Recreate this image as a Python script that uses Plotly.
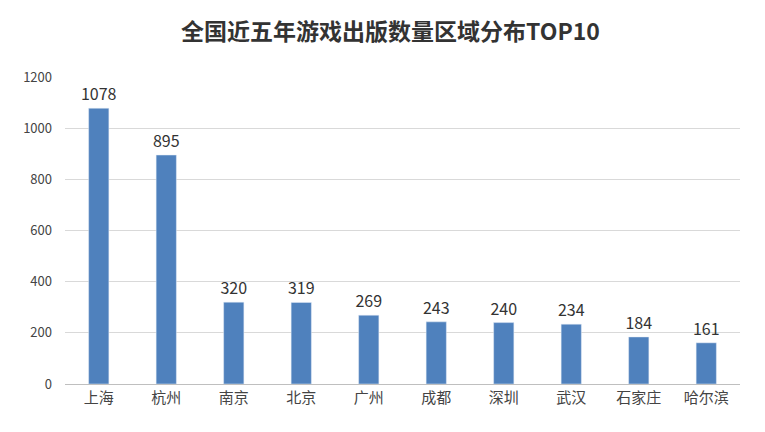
import plotly.graph_objects as go

cities = ["上海", "杭州", "南京", "北京", "广州", "成都", "深圳", "武汉", "石家庄", "哈尔滨"]
counts = [1078, 895, 320, 319, 269, 243, 240, 234, 184, 161]
y_ticks = [0, 200, 400, 600, 800, 1000, 1200]

fig = go.Figure(go.Bar(
    x=cities, y=counts, width=0.3, marker_color="#4f81bd",
    text=[str(v) for v in counts], textposition="outside", constraintext="none",
    textfont=dict(size=16, color="#333333", family="Noto Sans CJK SC"),
    cliponaxis=False,
))
fig.update_layout(
    width=765, height=432,
    margin=dict(l=57, r=33, t=69, b=56),
    paper_bgcolor="white", plot_bgcolor="white",
    uniformtext=dict(minsize=16, mode="show"),
    title=dict(text="<b>全国近五年游戏出版数量区域分布TOP10</b>", x=0.5, xanchor="center",
               y=0.945, yanchor="middle",
               font=dict(size=23, color="#333333", family="Noto Sans CJK SC")),
    xaxis=dict(tickfont=dict(size=15, color="#444444", family="Noto Sans CJK SC"),
               showline=True, linecolor="#bfbfbf", ticks=""),
    yaxis=dict(range=[0, 1200], tickvals=y_ticks, gridcolor="#d9d9d9",
               tickfont=dict(size=13, color="#444444", family="Noto Sans CJK SC"),
               zeroline=False, ticklabelstandoff=12),
    showlegend=False,
)
fig.write_html("out.html")
